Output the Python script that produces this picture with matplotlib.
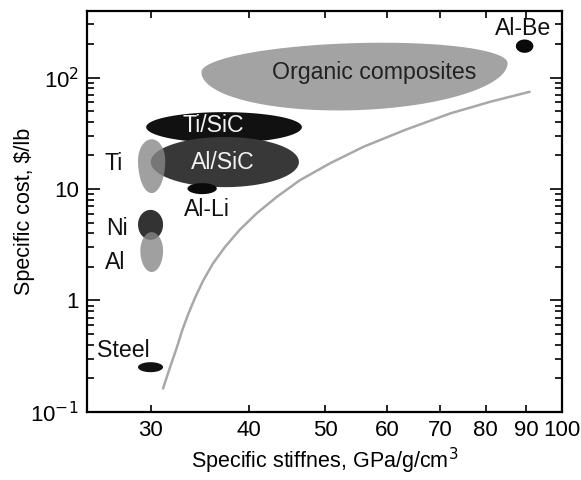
import numpy as np
import matplotlib
matplotlib.use("Agg")
import matplotlib.pyplot as plt
from matplotlib.ticker import FixedLocator, NullFormatter, LogLocator

plt.rcParams['font.family'] = ['Liberation Sans', 'DejaVu Sans']

# material regions (GPa/g/cm3 and $/lb): x range, y range, y at the left/right tips
materials = ['Organic composites', 'Ti/SiC', 'Al/SiC', 'Ti', 'Al-Li', 'Ni', 'Al', 'Steel', 'Al-Be']
x_lo = [34.8, 29.6, 30.0, 28.9, 33.4, 28.9, 29.1, 28.9, 87.4]
x_hi = [85.3, 46.7, 46.3, 31.3, 36.4, 31.1, 31.1, 31.1, 92.0]
y_lo = [51.0, 26.0, 10.4, 9.2, 9.0, 3.5, 1.8, 0.227, 167.0]
y_hi = [204.0, 49.0, 29.3, 28.0, 11.3, 6.5, 4.1, 0.279, 220.0]
y_left = [112.0, 36.0, 17.5, 18.0, 10.1, 4.8, 2.8, 0.252, 192.0]
y_right = [135.0, 36.0, 17.5, 18.0, 10.1, 4.8, 2.8, 0.252, 192.0]
colors = ['#a3a3a3', '#111111', '#383838', '#888888', '#0a0a0a', '#333333', '#888888', '#111111', '#0a0a0a']
alphas = [1, 1, 1, 0.8, 1, 1, 0.8, 1, 1]

# label positions
lab_x = [57.8, 36.0, 37.0, 26.9, 35.4, 27.2, 27.0, 27.7, 89.2]
lab_y = [112.0, 37.5, 17.4, 17.1, 6.5, 4.46, 2.21, 0.358, 278.0]
lab_col = ['#222222', '#f2f2f2', '#f2f2f2', '#111111', '#111111', '#111111', '#111111', '#111111', '#111111']

# boundary curve
curve_x = [31.1, 31.6, 32.4, 32.9, 33.5, 34.2, 35.0, 36.0, 37.3, 38.9,
           40.9, 43.4, 46.4, 50.7, 55.9, 63.1, 72.1, 81.0, 91.0]
curve_y = [0.162, 0.229, 0.383, 0.541, 0.764, 1.08, 1.52, 2.15, 3.03, 4.28,
           6.04, 8.51, 11.96, 17.0, 23.9, 33.8, 47.7, 60.6, 74.6]

xticks = [30, 40, 50, 60, 70, 80, 90, 100]

fig = plt.figure(figsize=(5.81, 4.8), dpi=100)
ax = fig.add_axes([0.150, 0.142, 0.817, 0.836])
ax.set_xscale('log')
ax.set_yscale('log')

# ellipses drawn in log-log space
t = np.linspace(0, 2 * np.pi, 400)
u, v = np.cos(t), np.sin(t)
for i in range(len(materials)):
    lx0, lx1 = np.log10(x_lo[i]), np.log10(x_hi[i])
    ll, lr = np.log10(y_left[i]), np.log10(y_right[i])
    lc = (ll + lr) / 2
    bt = np.log10(y_hi[i]) - lc
    bb = lc - np.log10(y_lo[i])
    xs = 10 ** ((lx0 + lx1) / 2 + (lx1 - lx0) / 2 * u)
    ys = 10 ** (lc + (lr - ll) / 2 * u + np.where(v > 0, bt, bb) * v)
    ax.fill(xs, ys, color=colors[i], alpha=alphas[i], lw=0, zorder=2 + i * 0.1)

ax.plot(curve_x, curve_y, color='#a8a8a8', lw=1.8, zorder=2, solid_capstyle='round',
        solid_joinstyle='round')

for i in range(len(materials)):
    ax.text(lab_x[i], lab_y[i], materials[i], color=lab_col[i], fontsize=16.7,
            ha='center', va='center', zorder=5)

ax.set_xlim(24.9, 100)
ax.set_ylim(0.1, 400)

ax.xaxis.set_major_locator(FixedLocator(xticks))
ax.xaxis.set_minor_locator(FixedLocator([]))
ax.set_xticklabels([str(v) for v in xticks])
ax.xaxis.set_minor_formatter(NullFormatter())

ax.yaxis.set_major_locator(FixedLocator([0.1, 1, 10, 100]))
ax.set_yticklabels(['10$^{-1}$', '1', '10', '10$^{2}$'])
ax.yaxis.set_minor_locator(LogLocator(base=10, subs=np.arange(2, 10)))
ax.yaxis.set_minor_formatter(NullFormatter())

ax.tick_params(which='both', direction='in', top=True, right=True, labelsize=16, width=1.2, pad=6)
ax.tick_params(axis='y', which='major', length=9)
ax.tick_params(axis='y', which='minor', length=5)
ax.tick_params(axis='x', which='major', length=5)
for s in ax.spines.values():
    s.set_linewidth(1.6)

ax.set_xlabel('Specific stiffnes, GPa/g/cm$^3$', fontsize=15.5, labelpad=3)
ax.set_ylabel('Specific cost, \\$/lb', fontsize=15.5)
ax.yaxis.set_label_coords(-0.11, 0.5)

fig.savefig('out.png', dpi=100)
